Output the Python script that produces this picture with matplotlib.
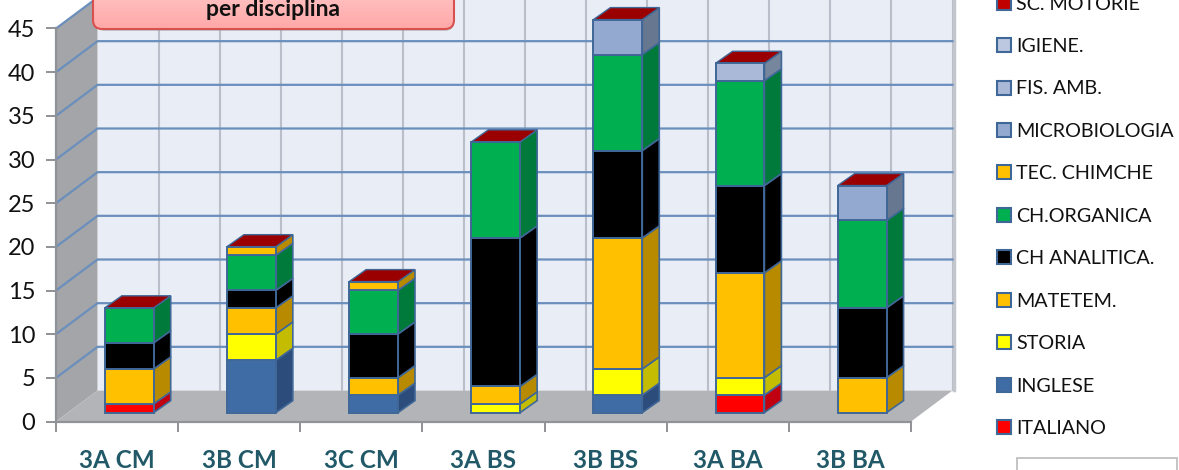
import numpy as np
import matplotlib
matplotlib.use('Agg')
import matplotlib.pyplot as plt
from matplotlib.patches import Polygon, Patch, FancyBboxPatch, Rectangle

categories = ['3A CM', '3B CM', '3C CM', '3A BS', '3B BS', '3A BA', '3B BA']
italiano = [1, 0, 0, 0, 0, 2, 0]
inglese = [0, 6, 2, 0, 2, 0, 0]
storia = [0, 3, 0, 1, 3, 2, 0]
matematica = [4, 3, 2, 2, 15, 12, 4]
analitica = [3, 2, 5, 17, 10, 10, 8]
organica = [4, 4, 5, 11, 11, 12, 10]
tec_chimiche = [0, 1, 1, 0, 0, 0, 0]
microbiologia = [0, 0, 0, 0, 4, 0, 4]
fis_amb = [0, 0, 0, 0, 0, 2, 0]
igiene = [0, 0, 0, 0, 0, 0, 0]
sc_motorie = [0, 0, 0, 0, 0, 0, 0]

names = ['ITALIANO', 'INGLESE', 'STORIA', 'MATETEM.', 'CH ANALITICA.', 'CH.ORGANICA',
         'TEC. CHIMCHE', 'MICROBIOLOGIA', 'FIS. AMB.', 'IGIENE.', 'SC. MOTORIE']
series = [italiano, inglese, storia, matematica, analitica, organica,
          tec_chimiche, microbiologia, fis_amb, igiene, sc_motorie]
colors = ['#ff0000', '#3f6ca5', '#ffff00', '#ffc000', '#000000', '#00b050',
          '#ffc000', '#93a9cf', '#a9b9d7', '#bcc8e0', '#c00000']
side_colors = ['#c00010', '#2c4d7c', '#c4bc00', '#b78a00', '#000000', '#007a3a',
               '#b78a00', '#66778f', '#76869c', '#8a94a6', '#900000']

EDGE = '#3f6797'
GRID = '#6b8fbd'
GRAY = '#8f9296'

fig = plt.figure(figsize=(11.79, 4.70), dpi=100)
plt.rcParams['font.family'] = ['Lato', 'DejaVu Sans']
ax = fig.add_axes([56 / 1179, 48.5 / 470, 855 / 1179, 393 / 470])
ax.set_xlim(0, 7)
ax.set_ylim(0, 45)

# depth of the fake 3D box and of the bars, in data units
wall_dx, wall_dy = 0.34, 3.55
bar_dx, bar_dy = 0.139, 1.374
base = 1.02
bar_w = 0.40
centers = np.arange(len(categories)) + 0.6

# walls and floor
ax.add_patch(Polygon([(wall_dx, wall_dy), (7 + wall_dx, wall_dy), (7 + wall_dx, 45 + wall_dy), (wall_dx, 45 + wall_dy)],
                     fc='#e9edf6', ec='none', clip_on=False, zorder=1))
ax.add_patch(Polygon([(0, 0), (wall_dx, wall_dy), (wall_dx, 45 + wall_dy), (0, 45)],
                     fc='#a3a5a8', ec='none', clip_on=False, zorder=1))
ax.add_patch(Polygon([(0, 0), (7, 0), (7 + wall_dx, wall_dy), (wall_dx, wall_dy)],
                     fc='#b2b4b8', ec='none', clip_on=False, zorder=1))

# grid on the walls
for xv in np.arange(0.5, 7.5, 0.5):
    ax.plot([xv + wall_dx] * 2, [wall_dy, 45 + wall_dy], color='#b9bec8', lw=1.5, clip_on=False, zorder=2)
ax.plot([7 + wall_dx + 0.01] * 2, [wall_dy, 45 + wall_dy], color='#c3c6cc', lw=2.5, clip_on=False, zorder=2)
for yv in range(5, 50, 5):
    ax.plot([0, wall_dx, 7 + wall_dx], [yv, yv + wall_dy, yv + wall_dy], color=GRID, lw=1.6, clip_on=False, zorder=3)

# stacked bars with side faces and a cap
totals = np.zeros(len(categories))
for vals, col, side in zip(series, colors, side_colors):
    vals = np.array(vals, dtype=float)
    shown = vals > 0
    ax.bar(centers[shown], vals[shown], bar_w, bottom=base + totals[shown], color=col,
           edgecolor=EDGE, linewidth=1.4, zorder=6, clip_on=False)
    for i in np.where(shown)[0]:
        x1 = centers[i] + bar_w / 2
        y0 = base + totals[i]
        y1 = y0 + vals[i]
        ax.add_patch(Polygon([(x1, y0), (x1 + bar_dx, y0 + bar_dy), (x1 + bar_dx, y1 + bar_dy), (x1, y1)],
                             fc=side, ec=EDGE, lw=1.2, zorder=5, clip_on=False))
    totals += vals
for c, t in zip(centers, totals):
    x0 = c - bar_w / 2
    y1 = base + t
    ax.add_patch(Polygon([(x0, y1), (x0 + bar_w, y1), (x0 + bar_w + bar_dx, y1 + bar_dy), (x0 + bar_dx, y1 + bar_dy)],
                         fc='#9a0000', ec=EDGE, lw=1.0, zorder=5, clip_on=False))

# axes and ticks
for s in ['top', 'right']:
    ax.spines[s].set_visible(False)
for s in ['left', 'bottom']:
    ax.spines[s].set_color(GRAY)
    ax.spines[s].set_linewidth(1.6)
    ax.spines[s].set_zorder(4)
ax.patch.set_alpha(0)
ax.set_yticks(range(0, 50, 5))
ax.tick_params(axis='y', length=7, width=1.4, color=GRAY, labelsize=17, labelcolor='#111111', pad=8)
ax.set_xticks(range(8))
ax.set_xticklabels([])
ax.tick_params(axis='x', which='major', length=7, width=1.4, color=GRAY)
ax.set_xticks(np.arange(len(categories)) + 0.5, minor=True)
ax.set_xticklabels(categories, minor=True, fontsize=17.5, fontweight='bold', color='#215968')
ax.tick_params(axis='x', which='minor', length=0, pad=20)

# overlay in pixel coordinates for the title box and the stray box
over = fig.add_axes([0, 0, 1, 1], zorder=10)
over.set_xlim(0, 1179)
over.set_ylim(470, 0)
over.axis('off')
over.add_patch(FancyBboxPatch((96, -30), 358, 61, boxstyle='round,pad=0,rounding_size=9',
                              fc='#9a9a9a', ec='none', alpha=0.5))
box = FancyBboxPatch((93, -30), 361, 59, boxstyle='round,pad=0,rounding_size=9',
                     fc='none', ec='#d9514e', lw=1.5, zorder=3)
over.add_patch(box)
grad = np.linspace(0, 1, 64).reshape(-1, 1)
im = over.imshow(grad, extent=(93, 454, 29, -30), aspect='auto', zorder=2.9,
                 cmap=matplotlib.colors.LinearSegmentedColormap.from_list('t', ['#ffd2d2', '#ffa8a8']))
clip = FancyBboxPatch((93, -30), 361, 59, boxstyle='round,pad=0,rounding_size=9',
                      fc='none', ec='none', transform=over.transData)
over.add_patch(clip)
im.set_clip_path(clip)
over.set_xlim(0, 1179)
over.set_ylim(470, 0)
over.text(273, 10, 'per disciplina', ha='center', va='center', fontsize=16.5, fontweight='bold', color='#111111', zorder=4)
over.add_patch(Rectangle((1017, 458), 160, 30, fc='white', ec='#c4c4c4', lw=1.4, clip_on=True))

# legend, top entry runs off the figure like in the original
handles = [Patch(fc=c, ec=EDGE, lw=1.5) for c in colors]
leg = fig.legend(handles[::-1], names[::-1], loc='lower left', bbox_to_anchor=(997 / 1179, 33 / 470),
                 frameon=False, fontsize=14.2, handlelength=0.72, handleheight=0.72, handletextpad=0.25,
                 labelspacing=1.29, borderpad=0, borderaxespad=0, labelcolor='#111111')
leg.set_zorder(11)

plt.savefig('out.png', dpi=100)
